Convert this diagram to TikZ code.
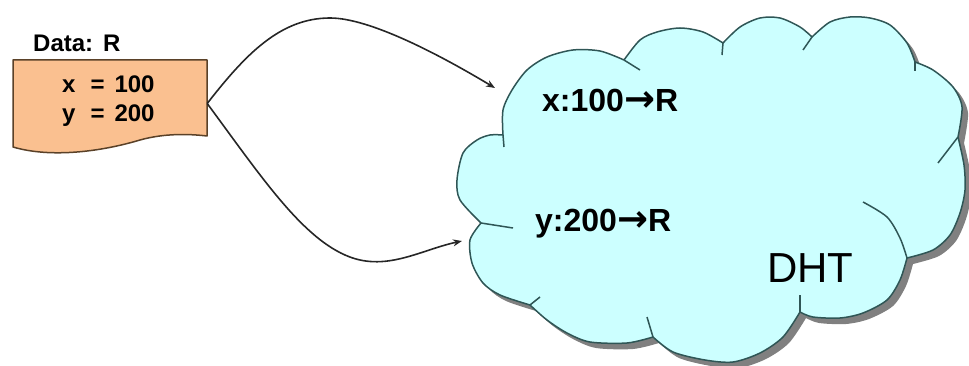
\documentclass[tikz,border=0pt]{standalone}
\usepackage{fontspec}
\setmainfont{Liberation Sans}
\newfontfamily\arrowfont{DejaVu Sans}
\usetikzlibrary{arrows.meta}

\definecolor{docfill}{HTML}{FAC090}
\definecolor{docline}{HTML}{5A4128}
\definecolor{cloudfill}{HTML}{CCFFFF}
\definecolor{cloudline}{HTML}{2F5656}
\definecolor{shadowgray}{HTML}{808080}

\def\cloudpath{(503,135)
  -- plot[smooth] coordinates {(503,135) (503,110) (512,90) (527,70) (547,57) (573,50) (600,51) (624,60)}
  -- plot[smooth] coordinates {(624,60) (640,40) (657,32) (680,28) (703,32) (723,43)}
  -- plot[smooth] coordinates {(723,43) (740,27) (760,18) (780,18) (800,27) (812,37)}
  -- plot[smooth] coordinates {(812,37) (830,22) (850,17) (870,18) (890,25) (907,43) (915,62)}
  -- plot[smooth] coordinates {(915,62) (933,70) (953,87) (962,107) (958,137)}
  -- plot[smooth] coordinates {(958,137) (964,165) (965,190) (960,213) (950,235) (933,250) (907,258)}
  -- plot[smooth] coordinates {(907,258) (900,280) (887,300) (863,313) (840,318) (813,317) (800,312)}
  -- plot[smooth] coordinates {(800,312) (783,337) (760,353) (733,362) (705,360) (673,352) (653,337)}
  -- plot[smooth] coordinates {(653,337) (627,343) (590,342) (567,333) (547,320) (530,305)}
  -- plot[smooth] coordinates {(530,305) (500,295) (483,283) (472,263) (470,240) (481,223)}
  -- plot[smooth] coordinates {(481,223) (460,200) (457,180) (463,153) (477,140) (490,135) (503,135)}
  -- cycle}

\newcommand\maparrow{{\arrowfont\bfseries\fontsize{37}{40}\selectfont →}}

\begin{document}
\begin{tikzpicture}[x=1pt,y=-1pt,
  conn/.style={draw=black!85, line width=1.6pt, -{Stealth[length=9pt,width=7pt]}},
  cloudedge/.style={draw=cloudline, line width=1.5pt, line join=round},
  keytext/.style={inner sep=0pt, anchor=base west, font=\bfseries\fontsize{32}{36}\selectfont},
  boxtext/.style={inner sep=0pt, anchor=base west, font=\bfseries\fontsize{24}{26}\selectfont},
  dhttext/.style={inner sep=0pt, anchor=base west, font=\fontsize{42}{46}\selectfont}]
\useasboundingbox (0,0) rectangle (969,366);

% cloud with shadow
\fill[shadowgray, shift={(6,6)}] \cloudpath;
\filldraw[fill=cloudfill, cloudedge] \cloudpath;
% inner arcs of the cloud
\draw[cloudedge] (503,135) -- (504,147);
\draw[cloudedge] (624,60) -- (640,70);
\draw[cloudedge] (723,43) -- (722,55);
\draw[cloudedge] (812,37) -- (803,50);
\draw[cloudedge] (915,62) -- (915,71);
\draw[cloudedge] (958,137) -- (938,163);
\draw[cloudedge] plot[smooth] coordinates {(907,258) (900,238) (887,217) (863,202)};
\draw[cloudedge] (800,312) -- (800,295);
\draw[cloudedge] (653,337) -- (647,317);
\draw[cloudedge] (530,305) -- (540,297);
\draw[cloudedge] (481,223) -- (513,228);

% data document shape
\filldraw[fill=docfill, draw=docline, line width=1.5pt, line join=round]
  (13,60) -- (207,60) -- (207,136)
  .. controls (190,134) and (165,133) .. (140,140)
  .. controls (100,152) and (50,158) .. (13,147) -- cycle;
\node[minimum width=194pt, minimum height=87pt, inner sep=0pt, draw=none] (data) at (110,103.5) {};

% texts
\node[boxtext] (dlabel) at (33,52) {Data:\hspace{10pt}R};
\node[boxtext] (xval) at (62,93) {x\hspace{15pt}=\hspace{10pt}100};
\node[boxtext] (yval) at (62,122) {y\hspace{15pt}=\hspace{10pt}200};
\node[keytext] (xkey) at (542,112) {x:100\maparrow R};
\node[keytext] (ykey) at (535,232) {y:200\maparrow R};
\node[dhttext] (dht) at (767,282) {DHT};

% connectors
\coordinate (tipx) at (495,88);
\coordinate (tipy) at (462,241);
\draw[conn] (data.east) .. controls (245,55) and (280,18) .. (330,18)
  .. controls (370,18) and (440,55) .. (tipx);
\draw[conn] (data.east) .. controls (260,175) and (300,235) .. (345,255)
  .. controls (385,273) and (420,250) .. (tipy);
\end{tikzpicture}
\end{document}
